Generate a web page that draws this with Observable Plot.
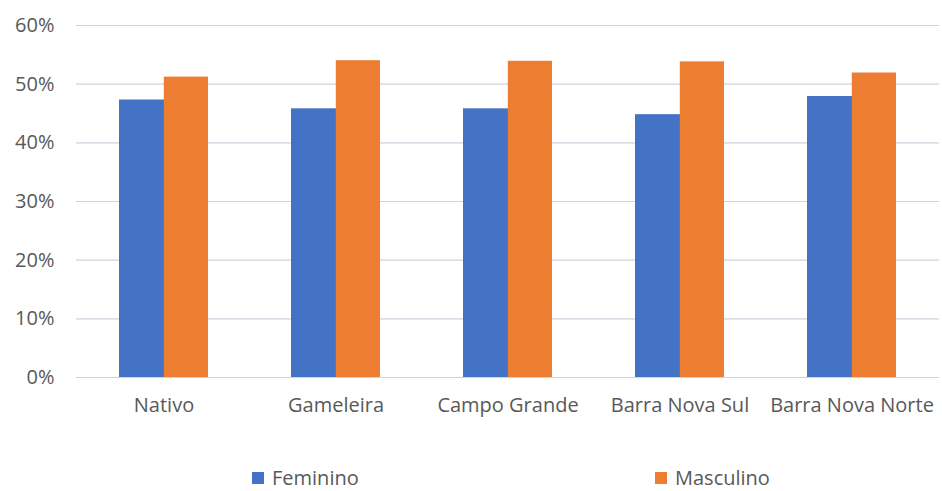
<!DOCTYPE html>
<html>
<head>
<meta charset="utf-8">
<script src="https://cdn.jsdelivr.net/npm/d3@7"></script>
<script src="https://cdn.jsdelivr.net/npm/@observablehq/plot@0.6"></script>
<style>
  body { margin: 0; background: #fff; font-family: "Open Sans", sans-serif; }
  #wrap { position: relative; width: 942px; height: 491px; }
  .leg { position: absolute; top: 465px; height: 25px; line-height: 25px; font-size: 20px; color: #595959; display: flex; align-items: center; }
  .sw { width: 12px; height: 12px; display: inline-block; margin-right: 8px; }
</style>
</head>
<body>
<div id="wrap"></div>
<script>
const sites = ["Nativo", "Gameleira", "Campo Grande", "Barra Nova Sul", "Barra Nova Norte"];
const feminino = [0.473, 0.458, 0.458, 0.448, 0.479];
const masculino = [0.512, 0.540, 0.539, 0.538, 0.519];
const series = ["Feminino", "Masculino"];
const colors = ["#4472c4", "#ed7d31"];
const yTicks = [0, 0.1, 0.2, 0.3, 0.4, 0.5, 0.6];

const fem = sites.map((s, i) => ({site: s, sex: series[0], value: feminino[i]}));
const mas = sites.map((s, i) => ({site: s, sex: series[1], value: masculino[i]}));

const chart = Plot.plot({
  width: 942,
  height: 455,
  marginLeft: 76,
  marginRight: 3,
  marginTop: 25,
  marginBottom: 78,
  style: {fontFamily: "Open Sans, sans-serif", fontSize: "20px", color: "#595959", background: "#fff"},
  x: {domain: sites, paddingInner: 0.48, paddingOuter: 0.24, label: null, tickSize: 0, tickPadding: 20},
  y: {domain: [0, 0.6], ticks: yTicks, tickFormat: d => Math.round(d * 100) + "%", label: null, tickSize: 0, tickPadding: 22},
  color: {domain: series, range: colors},
  marks: [
    Plot.ruleY(yTicks, {stroke: "#cfd2e0", strokeWidth: 1.2}),
    Plot.barY(fem, {x: "site", y: "value", fill: "sex", insetRight: 43.5}),
    Plot.barY(mas, {x: "site", y: "value", fill: "sex", insetLeft: 44.8})
  ]
});
const wrap = document.getElementById("wrap");
wrap.appendChild(chart);
const legPos = [252, 655];
series.forEach((s, i) => {
  const d = document.createElement("div");
  d.className = "leg";
  d.style.left = legPos[i] + "px";
  d.innerHTML = `<span class="sw" style="background:${colors[i]}"></span><span>${s}</span>`;
  wrap.appendChild(d);
});
</script>
</body>
</html>
